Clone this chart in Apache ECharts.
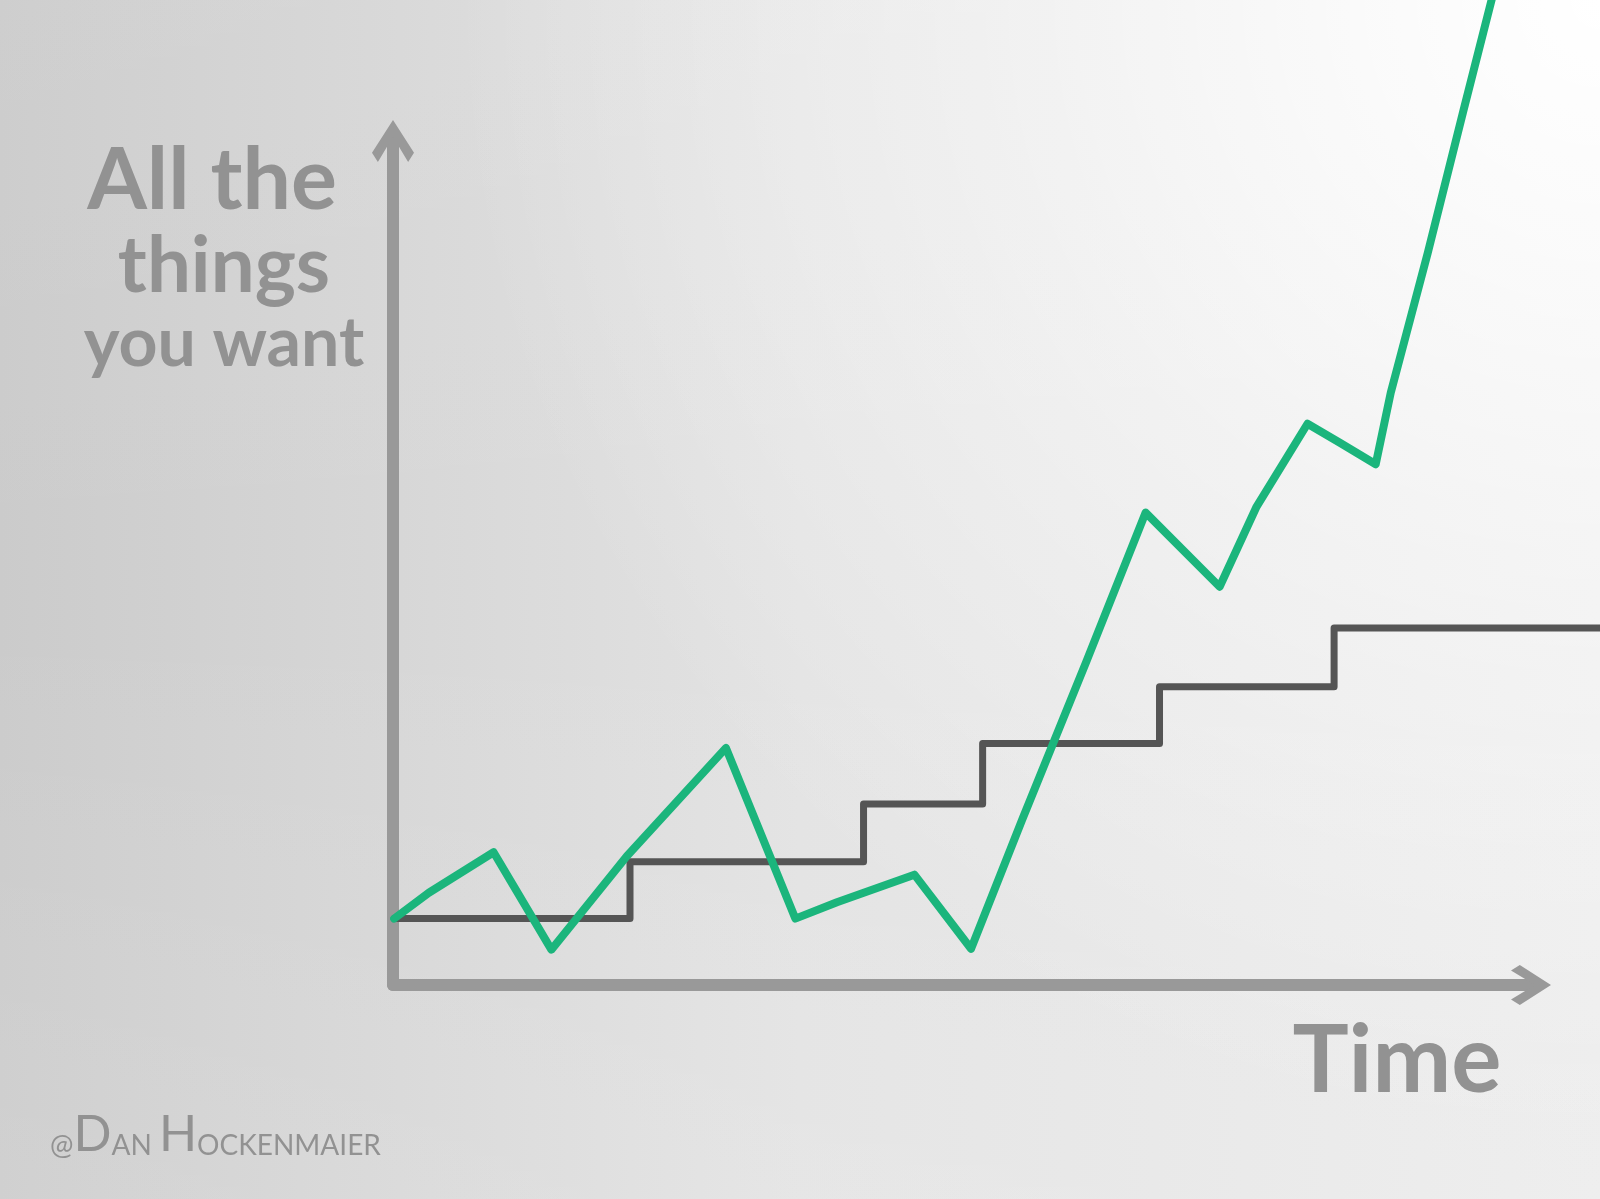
<!DOCTYPE html>
<html>
<head>
<meta charset="utf-8">
<script src="https://cdn.jsdelivr.net/npm/echarts@6/dist/echarts.min.js"></script>
<style>
  html, body { margin: 0; padding: 0; background: #e0e0e0; }
  #chart { width: 1600px; height: 1199px; }
</style>
</head>
<body>
<div id="chart"></div>
<script>
// ---- data ----
const haveTime  = [0.1, 20.5, 40.7, 51.0, 66.3, 81.4, 104.4];
const haveLevel = [7.7, 14.3, 21.0, 28.0, 34.6, 41.4, 41.4];

const wantTime  = [0.1, 3.1, 8.7, 13.7, 20.2, 28.8, 34.8, 38.4, 45.1, 50.0, 54.4, 60.0, 65.1, 71.5, 74.7, 79.1, 81.9, 85.0, 86.3, 89.5, 92.6, 95.2];
const wantLevel = [7.7, 10.7, 15.4, 4.1, 14.9, 27.5, 7.7, 9.6, 12.8, 4.2, 19.1, 37.6, 54.8, 46.2, 55.5, 65.1, 62.9, 60.4, 68.7, 84.9, 101.5, 115.2];

const yTitleLines = ['All the', 'things', 'you want'];
const xTitle = 'Time';
const creditText = '{s|@}{b|D}{s|AN }{b|H}{s|OCKENMAIER}';

// ---- build ----
const havePairs = haveTime.map((t, i) => [t, haveLevel[i]]);
const wantPairs = wantTime.map((t, i) => [t, wantLevel[i]]);

const AXIS_GRAY = '#999999';
const TEXT_GRAY = '#929292';
const chevron = 'path://M50,0 L100,78 L86,100 L50,40 L14,100 L0,78 Z';

const chart = echarts.init(document.getElementById('chart'), null, { renderer: 'canvas' });

const titleLayout = [
  { x: 212, y: 181, size: 86 },
  { x: 224, y: 267, size: 78 },
  { x: 224, y: 344, size: 68 }
];

const graphics = [
  {
    type: 'rect', z: -100, silent: true,
    shape: { x: 0, y: 0, width: 1600, height: 1199 },
    style: {
      fill: {
        type: 'linear', x: 0, y: 0, x2: 1, y2: 0, global: false,
        colorStops: [
          { offset: 0, color: '#cbcbcb' },
          { offset: 0.5, color: '#e3e3e3' },
          { offset: 1, color: '#ececec' }
        ]
      }
    }
  },
  {
    type: 'rect', z: -99, silent: true,
    shape: { x: 0, y: 0, width: 1600, height: 1199 },
    style: {
      fill: {
        type: 'linear', x: 0, y: 0, x2: 0, y2: 1, global: false,
        colorStops: [
          { offset: 0, color: 'rgba(255,255,255,0.06)' },
          { offset: 0.5, color: 'rgba(255,255,255,0)' },
          { offset: 1, color: 'rgba(255,255,255,0.1)' }
        ]
      }
    }
  },
  {
    type: 'rect', z: -98, silent: true,
    shape: { x: 0, y: 0, width: 1600, height: 1199 },
    style: {
      fill: {
        type: 'radial', x: 1600, y: 0, r: 1150, global: true,
        colorStops: [
          { offset: 0, color: 'rgba(255,255,255,1)' },
          { offset: 0.5, color: 'rgba(255,255,255,0.45)' },
          { offset: 1, color: 'rgba(255,255,255,0)' }
        ]
      }
    }
  }
];

yTitleLines.forEach((line, i) => {
  const L = titleLayout[i];
  graphics.push({
    type: 'text', z: 10, silent: true,
    x: L.x, y: L.y,
    style: {
      text: line,
      fill: TEXT_GRAY,
      font: 'bold ' + L.size + 'px Lato',
      textAlign: 'center', textVerticalAlign: 'middle',
      align: 'center', verticalAlign: 'middle'
    }
  });
});

graphics.push({
  type: 'text', z: 10, silent: true,
  x: 1397, y: 1062,
  style: {
    text: xTitle,
    fill: TEXT_GRAY,
    font: 'bold 94px Lato',
    textAlign: 'center', textVerticalAlign: 'middle',
    align: 'center', verticalAlign: 'middle'
  }
});

graphics.push({
  type: 'text', z: 10, silent: true,
  x: 50, y: 1160,
  style: {
    text: creditText,
    fill: TEXT_GRAY,
    textAlign: 'left', textVerticalAlign: 'bottom',
    align: 'left', verticalAlign: 'bottom',
    rich: {
      b: { fontSize: 50, lineHeight: 50, fontFamily: 'Lato', fill: TEXT_GRAY, verticalAlign: 'bottom' },
      s: { fontSize: 28, lineHeight: 34, fontFamily: 'Lato', fill: TEXT_GRAY, verticalAlign: 'bottom' }
    }
  }
});

const hiddenAxis = {
  show: false, axisLine: { show: false }, axisTick: { show: false },
  axisLabel: { show: false }, splitLine: { show: false }
};

chart.setOption({
  animation: false,
  graphic: { elements: graphics },
  grid: [
    { left: 393, right: 69, top: 141, bottom: 214, containLabel: false },
    { left: 393, right: 0, top: 141, bottom: 214, containLabel: false }
  ],
  xAxis: [
    {
      type: 'value', gridIndex: 0, min: 0, max: 98.4,
      axisLine: {
        show: true, onZero: false,
        symbol: ['none', chevron], symbolSize: [52, 40],
        lineStyle: { color: AXIS_GRAY, width: 12, cap: 'round' }
      },
      axisTick: { show: false }, axisLabel: { show: false }, splitLine: { show: false }
    },
    Object.assign({ type: 'value', gridIndex: 1, min: 0, max: 104.4 }, hiddenAxis)
  ],
  yAxis: [
    {
      type: 'value', gridIndex: 0, min: 0, max: 97.9,
      axisLine: {
        show: true, onZero: false,
        symbol: ['none', chevron], symbolSize: [56, 42],
        lineStyle: { color: AXIS_GRAY, width: 12, cap: 'round' }
      },
      axisTick: { show: false }, axisLabel: { show: false }, splitLine: { show: false }
    },
    Object.assign({ type: 'value', gridIndex: 1, min: 0, max: 97.9 }, hiddenAxis)
  ],
  series: [
    {
      name: 'have', type: 'line', step: 'end', data: havePairs,
      xAxisIndex: 1, yAxisIndex: 1,
      showSymbol: false, symbol: 'none', clip: false, z: 3,
      lineStyle: { color: '#555555', width: 7, cap: 'round', join: 'round' }
    },
    {
      name: 'want', type: 'line', data: wantPairs,
      xAxisIndex: 1, yAxisIndex: 1,
      showSymbol: false, symbol: 'none', clip: false, z: 4,
      lineStyle: { color: '#1bb57c', width: 8, cap: 'round', join: 'round' }
    }
  ]
});
</script>
</body>
</html>
